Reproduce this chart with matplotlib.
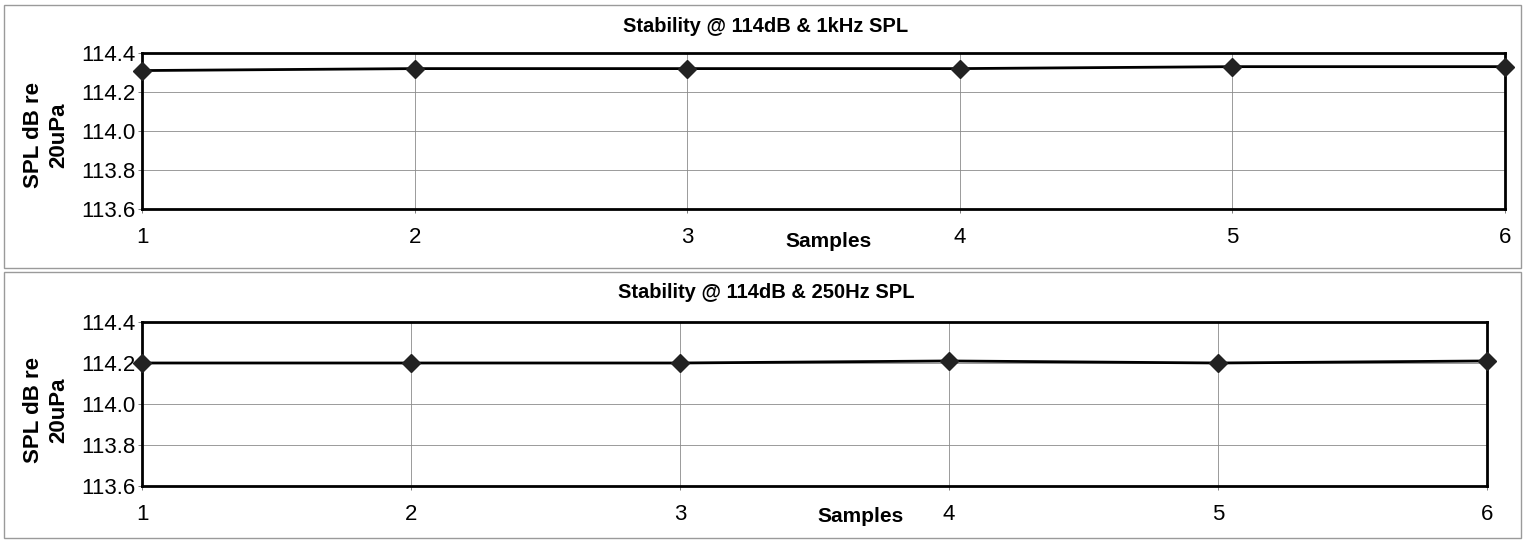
import numpy as np
import matplotlib
matplotlib.use('Agg')
import matplotlib.pyplot as plt
from matplotlib.patches import Rectangle

plt.rcParams['font.family'] = ['Liberation Sans', 'DejaVu Sans']

samples = [1, 2, 3, 4, 5, 6]
spl_1k = [114.31, 114.32, 114.32, 114.32, 114.33, 114.33]
spl_250 = [114.20, 114.20, 114.20, 114.21, 114.20, 114.21]
yticks = [113.6, 113.8, 114.0, 114.2, 114.4]

W, H = 1525, 540
fig = plt.figure(figsize=(W / 100, H / 100), dpi=100)

# panel borders
for (x0, y0, x1, y1) in [(4, 5, 1521, 268), (4, 272, 1521, 538)]:
    fig.patches.append(Rectangle((x0 / W, 1 - y1 / H), (x1 - x0) / W, (y1 - y0) / H,
                                 transform=fig.transFigure, fill=False,
                                 edgecolor='#9a9a9a', linewidth=1))


def panel(rect, y, title, title_y, lab_xy, ylab_y):
    ax = fig.add_axes(rect)
    ax.plot(samples, y, color='black', lw=2, marker='D', ms=9.5,
            markerfacecolor='#222222', markeredgecolor='#222222', clip_on=False, zorder=5)
    ax.set_xlim(1, 6)
    ax.set_ylim(113.6, 114.4)
    ax.set_xticks(samples)
    ax.set_yticks(yticks)
    ax.set_yticklabels(['%.1f' % v for v in yticks])
    ax.grid(True, color='#8a8a8a', lw=0.6)
    ax.set_axisbelow(True)
    for s in ax.spines.values():
        s.set_linewidth(2)
        s.set_color('black')
    ax.tick_params(axis='both', labelsize=16, length=3, width=0.6, color='#666666')
    ax.tick_params(axis='x', pad=10)
    ax.tick_params(axis='y', pad=2)
    ax.set_xlabel('Samples', fontsize=15, fontweight='bold')
    ax.xaxis.set_label_coords(*lab_xy)
    fig.text(766 / W, 1 - title_y / H, title, ha='center', va='center',
             fontsize=14.5, fontweight='bold')
    fig.text(46 / W, 1 - ylab_y / H, 'SPL dB re\n20uPa', ha='center', va='center',
             rotation=90, fontsize=16, fontweight='bold', linespacing=1.25)
    return ax


panel([142 / W, 1 - 209 / H, (1505 - 142) / W, (209 - 53) / H], spl_1k,
      'Stability @ 114dB & 1kHz SPL', 27, (0.504, -0.15), 135)
panel([142 / W, 1 - 486 / H, (1487 - 142) / W, (486 - 322) / H], spl_250,
      'Stability @ 114dB & 250Hz SPL', 292, (0.534, -0.13), 410)

plt.savefig('out.png', dpi=100)
